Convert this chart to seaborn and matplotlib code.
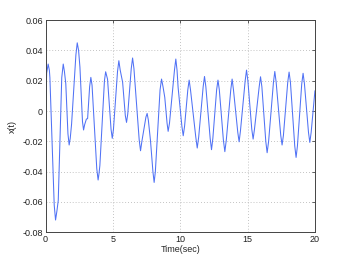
import matplotlib
matplotlib.use("Agg")
import matplotlib.pyplot as plt
import seaborn as sns
import pandas as pd

# --- values (peaks, troughs, their flanks, shoulders) ---
time_sec = [0.0, 0.08, 0.19, 0.28, 0.32,
            0.64, 0.74, 0.84, 0.94,
            1.2, 1.31, 1.4, 1.5,
            1.66, 1.75, 1.83, 1.93,
            2.25, 2.35, 2.45, 2.55,
            2.74, 2.82, 2.9, 3.03, 3.12,
            3.27, 3.36, 3.45,
            3.8, 3.9, 3.97, 4.03,
            4.37, 4.46, 4.6,
            4.86, 4.95, 5.04,
            5.34, 5.44, 5.54, 5.72,
            5.92, 6.01, 6.1,
            6.36, 6.46, 6.56,
            6.95, 7.05, 7.15, 7.3,
            7.45, 7.54, 7.63, 7.79,
            7.97, 8.06, 8.15,
            8.5, 8.61, 8.72, 8.85,
            9.02, 9.1, 9.2,
            9.57, 9.67, 9.76, 9.84,
            10.12, 10.22, 10.32,
            10.56, 10.66, 10.76,
            11.15, 11.26, 11.37,
            11.7, 11.8, 11.9,
            12.22, 12.32, 12.42,
            12.7, 12.8, 12.9,
            13.2, 13.31, 13.42,
            13.75, 13.85, 13.95,
            14.27, 14.37, 14.47,
            14.82, 14.92, 15.02,
            15.31, 15.41, 15.51,
            15.86, 15.96, 16.06,
            16.35, 16.45, 16.56,
            16.92, 17.02, 17.12,
            17.46, 17.56, 17.66,
            17.98, 18.08, 18.18,
            18.5, 18.6, 18.7,
            19.02, 19.12, 19.22,
            19.52, 19.62, 19.72,
            20.0]
x_vals = [0.0, 0.025, 0.031, 0.027, 0.022,
          -0.062, -0.0719, -0.066, -0.059,
          0.022, 0.031, 0.026, 0.018,
          -0.015, -0.0224, -0.018, -0.0086,
          0.037, 0.045, 0.040, 0.029,
          -0.007, -0.0125, -0.009, -0.0053, -0.005,
          0.016, 0.0222, 0.017,
          -0.038, -0.0455, -0.041, -0.036,
          0.020, 0.0259, 0.021,
          -0.012, -0.018, -0.012,
          0.026, 0.0332, 0.027, 0.019,
          -0.003, -0.0075, -0.002,
          0.028, 0.035, 0.028,
          -0.019, -0.0262, -0.020, -0.0119,
          -0.004, -0.0016, -0.006, -0.0196,
          -0.040, -0.0471, -0.040,
          0.014, 0.0211, 0.016, 0.009,
          -0.008, -0.0134, -0.008,
          0.027, 0.0343, 0.027, 0.0156,
          -0.010, -0.0163, -0.010,
          0.014, 0.0204, 0.014,
          -0.017, -0.0244, -0.017,
          0.016, 0.0228, 0.016,
          -0.018, -0.0255, -0.018,
          0.014, 0.0204, 0.014,
          -0.019, -0.0268, -0.019,
          0.014, 0.0211, 0.014,
          -0.014, -0.0203, -0.013,
          0.020, 0.027, 0.020,
          -0.012, -0.0185, -0.012,
          0.016, 0.0226, 0.016,
          -0.020, -0.0275, -0.020,
          0.019, 0.0261, 0.019,
          -0.016, -0.0224, -0.016,
          0.019, 0.0257, 0.019,
          -0.023, -0.0306, -0.023,
          0.018, 0.0249, 0.018,
          -0.014, -0.0207, -0.014,
          0.0134]

x_ticks = [0, 5, 10, 15, 20]
y_ticks = [-0.08, -0.06, -0.04, -0.02, 0, 0.02, 0.04, 0.06]
y_tick_labels = ["-0.08", "-0.06", "-0.04", "-0.02", "0", "0.02", "0.04", "0.06"]

df = pd.DataFrame({"t": time_sec, "x": x_vals})

sns.set_style("white")
plt.rcParams["font.family"] = ["Liberation Sans", "DejaVu Sans"]
plt.rcParams["axes.unicode_minus"] = False

fig = plt.figure(figsize=(3.48, 2.61), dpi=100)
ax = fig.add_axes([0.131, 0.110, 0.774, 0.813])

sns.lineplot(data=df, x="t", y="x", ax=ax, color="#5072f5", linewidth=0.75,
             estimator=None, sort=False)

ax.set_xlim(0, 20)
ax.set_ylim(-0.08, 0.06)
ax.set_xticks(x_ticks)
ax.set_xticklabels([str(v) for v in x_ticks])
ax.set_yticks(y_ticks)
ax.set_yticklabels(y_tick_labels)

ax.grid(True, color="#b0b0b0", linestyle=(0, (1, 2.5)), linewidth=0.6)
ax.tick_params(direction="in", top=True, right=True, length=2.5, width=0.5,
               labelsize=6.5, colors="#222222", pad=2)
for s in ax.spines.values():
    s.set_color("#444444")
    s.set_linewidth(0.7)

ax.set_xlabel("Time(sec)", fontsize=6.5, labelpad=1)
ax.set_ylabel("x(t)", fontsize=6.5, labelpad=4)

fig.savefig("out.png", dpi=100)
